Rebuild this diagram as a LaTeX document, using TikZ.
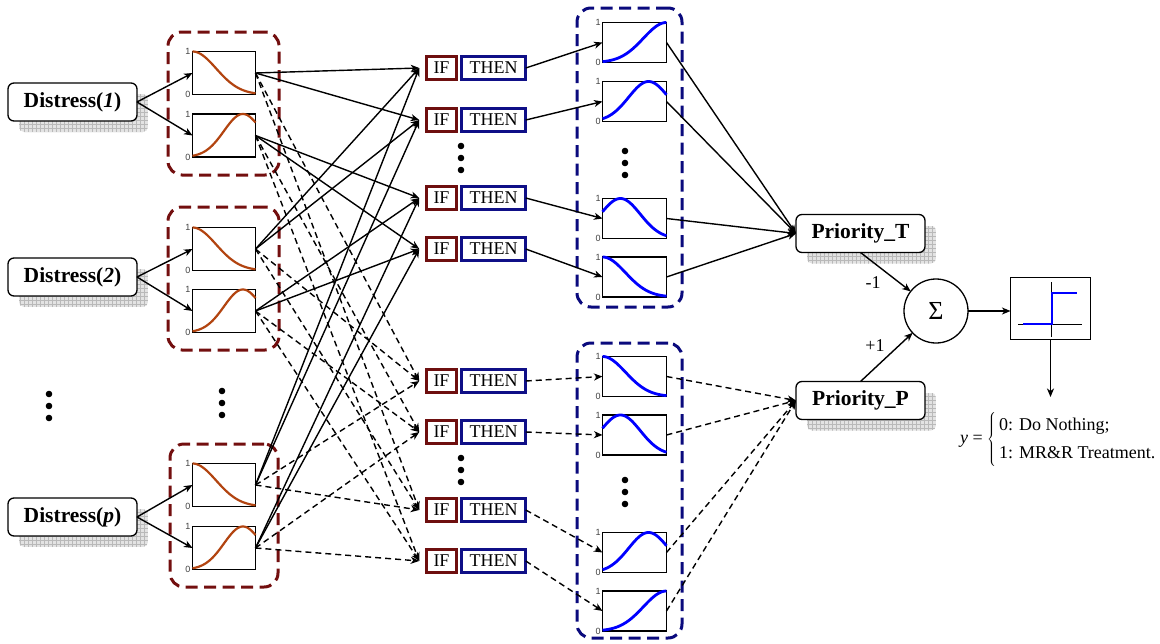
\documentclass[tikz,border=0pt]{standalone}
\usepackage{fontspec}
\setmainfont{Liberation Serif}
\newfontfamily\axisfont{Liberation Sans}
\usetikzlibrary{arrows.meta,calc,backgrounds}

\definecolor{mfbrown}{RGB}{178,68,16}
\definecolor{mfblue}{RGB}{0,0,255}
\definecolor{grpred}{RGB}{115,15,15}
\definecolor{grpblue}{RGB}{10,10,125}
\definecolor{ifred}{RGB}{110,15,15}
\definecolor{thenblue}{RGB}{15,15,135}

\tikzset{
  every node/.style={inner sep=0pt, outer sep=0pt},
  inbox/.style={draw, rounded corners=6pt, line width=1.3pt, fill=white,
    minimum width=129pt, minimum height=38pt,
    font=\fontsize{21.5}{24}\selectfont\bfseries},
  mfbox/.style={draw, line width=1.5pt, fill=white, minimum width=63pt, minimum height=43pt},
  outbox/.style={draw, line width=1.5pt, fill=white, minimum width=64pt, minimum height=40pt},
  ifbox/.style={draw=ifred, line width=2.6pt, minimum width=30.5pt, minimum height=23.5pt,
    font=\fontsize{18}{20}\selectfont, outer xsep=7pt},
  thenbox/.style={draw=thenblue, line width=2.6pt, minimum width=64.5pt, minimum height=23.5pt,
    font=\fontsize{18}{20}\selectfont},
  grpR/.style={draw=grpred, line width=3pt, dash pattern=on 12pt off 6.5pt, rounded corners=14pt},
  grpB/.style={draw=grpblue, line width=3pt, dash pattern=on 12pt off 6.5pt, rounded corners=14pt},
  inmf/.style={draw=mfbrown, line width=2.2pt},
  outmf/.style={draw=mfblue, line width=2.8pt},
  axlab/.style={font=\axisfont\fontsize{9}{9}\selectfont, text=black!75},
  conn/.style={line width=1.4pt, -{Stealth[length=8.5pt,width=7pt,inset=2.5pt]}},
  dconn/.style={conn, dash pattern=on 6pt off 4pt},
  wlabel/.style={font=\fontsize{18}{20}\selectfont},
  dotmark/.style={fill=black}
}

% membership function graph inside a box node: name, style, width, height, expression in \x
\newcommand\mfgraph[5]{%
  \begin{scope}[shift={(#1.south west)}]
    \draw[#2] plot[domain=0:1, samples=50, smooth] ({#3*\x}, {-#4*(#5)});
  \end{scope}
  \node[axlab, anchor=east] (#1-hi) at ($(#1.north west)+(-2,0)$) {1};
  \node[axlab, anchor=east] (#1-lo) at ($(#1.south west)+(-2,0)$) {0};
}

% gridded drop shadow behind a rounded node
\newcommand\gridshadow[1]{%
  \begin{scope}[on background layer]
    \begin{scope}
      \clip[rounded corners=5pt] ($(#1.south west)+(11,11)$) rectangle ($(#1.north east)+(11,11)$);
      \fill[gray!22] ($(#1.south west)+(11,11)$) rectangle ($(#1.north east)+(11,11)$);
      \draw[gray!55, line width=0.4pt, step=4pt] ($(#1.south west)+(11,11)$) grid ($(#1.north east)+(11,11)$);
    \end{scope}
  \end{scope}}

\begin{document}
\begin{tikzpicture}[x=1pt, y=-1pt]
\useasboundingbox (0,0) rectangle (1160,643);

% dashed group frames
\node[grpR, minimum width=111pt, minimum height=143pt] (G1) at (223.5,103.5) {};
\node[grpR, minimum width=111pt, minimum height=143pt] (G2) at (223.5,278.5) {};
\node[grpR, minimum width=108pt, minimum height=143pt] (G3) at (224,515.5) {};
\node[grpB, minimum width=105pt, minimum height=299pt] (G4) at (629.5,157.5) {};
\node[grpB, minimum width=105pt, minimum height=295pt] (G5) at (629.5,490.5) {};

% inputs
\node[inbox] (D1) at (72.5,102) {Distress(\textit{1})};
\node[inbox] (D2) at (72.5,277) {Distress(\textit{2})};
\node[inbox] (Dp) at (72.5,517) {Distress(\textit{p})};
\gridshadow{D1}
\gridshadow{D2}
\gridshadow{Dp}

% input membership functions
\node[mfbox] (A1) at (224,73) {};
\node[mfbox] (A2) at (224,135.5) {};
\node[mfbox] (B1) at (224,249) {};
\node[mfbox] (B2) at (224,311) {};
\node[mfbox] (C1) at (224,485) {};
\node[mfbox] (C2) at (224,548) {};
\foreach \n in {A1,B1,C1} {\mfgraph{\n}{inmf}{63}{43}{exp(-(\x*\x)/0.28)}}
\foreach \n in {A2,B2,C2} {\mfgraph{\n}{inmf}{63}{43}{exp(-((\x-0.8)*(\x-0.8))/0.18)}}

% rules
\foreach \i/\y in {1/68,2/120,3/198,4/249,5/381,6/432,7/510,8/561} {
  \node[ifbox] (I\i) at (441.5,\y) {IF};
  \node[thenbox] (T\i) at (493.5,\y) {THEN};
}

% output membership functions
\foreach \i/\y in {1/42.5,2/101.5,3/218.5,4/277,5/376.5,6/435,7/552.5,8/611} {
  \node[outbox] (O\i) at (634.5,\y) {};
}
\foreach \n in {O1,O8} {\mfgraph{\n}{outmf}{64}{40}{exp(-((1-\x)*(1-\x))/0.26)}}
\foreach \n in {O2,O7} {\mfgraph{\n}{outmf}{64}{40}{exp(-((\x-0.72)*(\x-0.72))/0.194)}}
\foreach \n in {O3,O6} {\mfgraph{\n}{outmf}{64}{40}{exp(-((\x-0.28)*(\x-0.28))/0.194)}}
\foreach \n in {O4,O5} {\mfgraph{\n}{outmf}{64}{40}{exp(-(\x*\x)/0.26)}}

% ellipsis dots
\foreach \x/\y in {49/394,222/391,461/146,461/458,625/151,625/480} {
  \foreach \d in {0,12,24} {\fill[dotmark] (\x,\y+\d) circle (3.3);}
}

% aggregated outputs
\node[inbox] (PT) at (860.5,233.5) {Priority\_T};
\node[inbox] (PP) at (860.5,400.5) {Priority\_P};
\gridshadow{PT}
\gridshadow{PP}
\node[circle, draw, line width=1.3pt, minimum size=64pt, font=\fontsize{26}{26}\selectfont] (sum) at (936,311) {Σ};
\node[draw, line width=1.5pt, minimum width=80pt, minimum height=62pt] (step) at (1050.5,308.5) {};
\draw[line width=0.7pt] (1018,324) -- (1082,324);
\draw[line width=0.7pt] (1051,282) -- (1051,337);
\draw[mfblue, line width=2pt] (1023,324) -- (1052,324) -- (1052,293) -- (1077,293);
\coordinate (yout) at (1050.5,397);
\node[anchor=west, font=\fontsize{18}{27}\selectfont] (eqn) at (960,439)
  {\textit{y} = $\left\{\begin{tabular}{@{\,}l@{}}0: Do Nothing;\\[1pt]1: MR\&R Treatment.\end{tabular}\right.$};

% input to fuzzifier
\foreach \d/\a/\b in {D1/A1/A2, D2/B1/B2, Dp/C1/C2} {
  \draw[conn] (\d.east) -- (\a.west);
  \draw[conn] (\d.east) -- (\b.west);
}

% fuzzy sets to rule antecedents
\foreach \m in {A1,B1,C1} {
  \draw[conn] (\m.east) -- (I1.west);
  \draw[conn] (\m.east) -- (I2.west);
  \draw[dconn] (\m.east) -- (I5.west);
  \draw[dconn] (\m.east) -- (I7.west);
}
\foreach \m in {A2,B2,C2} {
  \draw[conn] (\m.east) -- (I3.west);
  \draw[conn] (\m.east) -- (I4.west);
  \draw[dconn] (\m.east) -- (I6.west);
  \draw[dconn] (\m.east) -- (I8.west);
}

% rule consequents
\foreach \i in {1,...,4} {\draw[conn] (T\i.east) -- (O\i.west);}
\foreach \i in {5,...,8} {\draw[dconn] (T\i.east) -- (O\i.west);}

% aggregation
\foreach \i in {1,...,4} {\draw[conn] (O\i.east) -- (PT.west);}
\foreach \i in {5,...,8} {\draw[dconn] (O\i.east) -- (PP.west);}

% decision
\draw[conn] (PT.south) -- (sum);
\draw[conn] (PP.north) -- (sum);
\node[wlabel] (wm) at (873,283) {-1};
\node[wlabel] (wp) at (875,346) {+1};
\draw[conn] (sum.east) -- (sum.east -| step.west);
\draw[conn] (step.south) -- (yout);
\end{tikzpicture}
\end{document}
